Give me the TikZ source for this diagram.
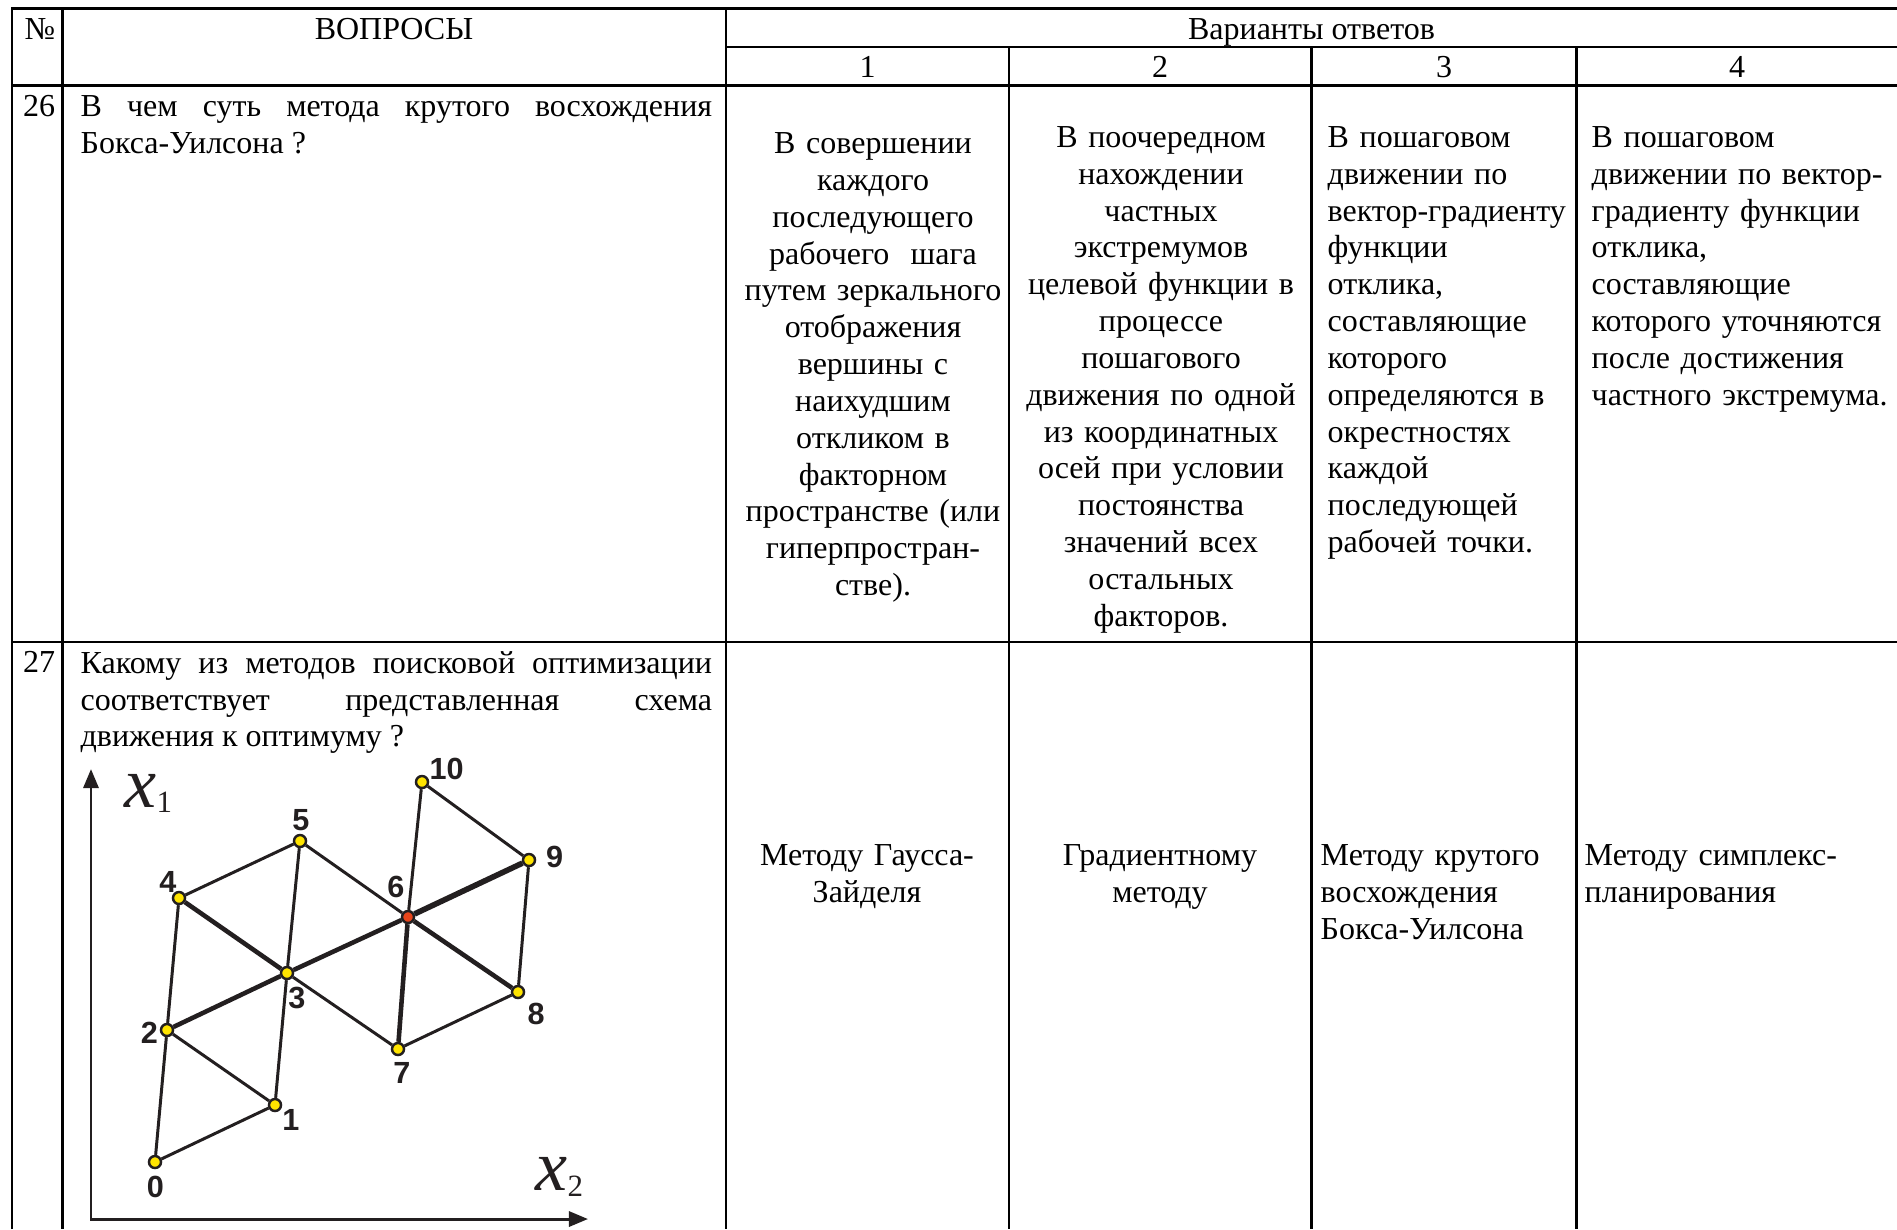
\documentclass[tikz,border=0pt]{standalone}
\usepackage{fontspec}
\setmainfont{Liberation Serif}
\newfontfamily\labelfont{Liberation Sans}
\usetikzlibrary{arrows,arrows.meta}
\definecolor{ink}{HTML}{231F20}
\definecolor{pointyellow}{HTML}{FFE400}
\definecolor{pointred}{HTML}{E8451B}
\newcommand{\cellfont}{\fontsize{9.1}{10.47}\selectfont}
\hbadness=10000

\begin{document}
\begin{tikzpicture}[x=0.01cm,y=-0.01cm,>={Triangle[length=0.19cm,width=0.15cm]},
  grid line/.style={line width=0.7pt},
  cell/.style={inner sep=0pt,font=\cellfont},
  point/.style={circle,draw=ink,fill=pointyellow,line width=0.7pt,inner sep=0pt,minimum size=0.12cm},
  num/.style={inner sep=0pt,text=ink,font=\labelfont\bfseries\fontsize{8.7}{9}\selectfont},
  thin edge/.style={draw=ink,line width=0.85pt},
  thick edge/.style={draw=ink,line width=1.3pt},
  axis/.style={draw=ink,line width=0.85pt},
  axis label/.style={inner sep=0pt,text=ink,font=\fontsize{20.5}{22}\selectfont\itshape}]

 \useasboundingbox (0,0) rectangle (1897,1229);

 % table grid
 \draw[grid line] (12,1229) -- (12,8.5) -- (1897,8.5);
 \draw[grid line] (726,47) -- (1897,47);
 \draw[grid line] (12,85.7) -- (1897,85.7);
 \draw[grid line] (12,642) -- (1897,642);
 \draw[grid line] (62.5,8.5) -- (62.5,1229);
 \draw[grid line] (726,8.5) -- (726,1229);
 \draw[grid line] (1009,47) -- (1009,1229);
 \draw[grid line] (1311.5,47) -- (1311.5,1229);
 \draw[grid line] (1576.5,47) -- (1576.5,1229);

 % header
 \node[cell,anchor=base] (no) at (40,39.2) {№};
 \node[cell,anchor=base] (questions) at (394,39.2) {ВОПРОСЫ};
 \node[cell,anchor=base] (variants) at (1311.5,39.2) {Варианты ответов};
 \node[cell,anchor=base] (v1) at (867.5,77) {1};
 \node[cell,anchor=base] (v2) at (1160,77) {2};
 \node[cell,anchor=base] (v3) at (1444,77) {3};
 \node[cell,anchor=base] (v4) at (1737,77) {4};

 % question 26
 \node[cell,anchor=base] (n26) at (39,116) {26};
 \node[cell,anchor=north west,text width=6.31cm,align=justify] (q26) at (80,90.2)
   {\strut В чем суть метода крутого восхождения\linebreak Бокса-Уилсона ?};
 \node[cell,anchor=north,text width=2.8cm,align=center] (a26a) at (873,127.2)
   {\strut В совершении\\ каждого\\ последующего\\ рабочего~ шага\\ путем зеркального\\ отображения\\ вершины с\\ наихудшим\\ откликом в\\ факторном\\ пространстве (или\\ гиперпростран-\\ стве).};
 \node[cell,anchor=north,text width=2.9cm,align=center] (a26b) at (1161,121)
   {\strut В поочередном\\ нахождении\\ частных\\ экстремумов\\ целевой функции в\\ процессе\\ пошагового\\ движения по одной\\ из координатных\\ осей при условии\\ постоянства\\ значений всех\\ остальных\\ факторов.};
 \node[cell,anchor=north west,text width=2.6cm,align=left] (a26c) at (1327,121)
   {\strut В пошаговом\\ движении по\\ вектор-градиенту\\ функции\\ отклика,\\ составляющие\\ которого\\ определяются в\\ окрестностях\\ каждой\\ последующей\\ рабочей точки.};
 \node[cell,anchor=north west,text width=3.1cm,align=left] (a26d) at (1591,121)
   {\strut В пошаговом\\ движении по вектор-\\ градиенту функции\\ отклика,\\ составляющие\\ которого уточняются\\ после достижения\\ частного экстремума.};

 % question 27
 \node[cell,anchor=base] (n27) at (39,672.5) {27};
 \node[cell,anchor=north west,text width=6.31cm,align=justify] (q27) at (80,646.7)
   {\strut Какому из методов поисковой оптимизации\linebreak соответствует представленная схема\linebreak движения к оптимуму ?};
 \node[cell,anchor=north,text width=2.8cm,align=center] (a27a) at (867,839.2)
   {\strut Методу Гаусса-\\ Зайделя};
 \node[cell,anchor=north,text width=2.9cm,align=center] (a27b) at (1160,839.2)
   {\strut Градиентному\\ методу};
 \node[cell,anchor=north west,text width=2.6cm,align=left] (a27c) at (1320,839.2)
   {\strut Методу крутого\\ восхождения\\ Бокса-Уилсона};
 \node[cell,anchor=north west,text width=3.1cm,align=left] (a27d) at (1584,839.2)
   {\strut Методу симплекс-\\ планирования};

 % simplex scheme
 \coordinate (x1tip) at (91,769);
 \coordinate (origin) at (91,1219);
 \coordinate (x2tip) at (588,1219);
 \draw[axis,<->] (x1tip) -- (origin) -- (x2tip);
 \node[axis label,anchor=base west] (x1label) at (124,807)
   {x\raisebox{-0.057cm}{\fontsize{8.8}{9}\selectfont\upshape 1}};
 \node[axis label,anchor=base west] (x2label) at (535,1190)
   {x\raisebox{-0.067cm}{\fontsize{8.8}{9}\selectfont\upshape 2}};

 \node[point] (0) at (155,1162) {};
 \node[point] (1) at (275,1105) {};
 \node[point] (2) at (167,1030) {};
 \node[point] (3) at (287,973) {};
 \node[point] (4) at (179,898) {};
 \node[point] (5) at (300,841) {};
 \node[point,fill=pointred] (6) at (408,917) {};
 \node[point] (7) at (398,1049) {};
 \node[point] (8) at (518,992) {};
 \node[point] (9) at (529,860) {};
 \node[point] (10) at (422,782) {};

 \path[thin edge]
    (0) edge (1)
    (0) edge (2)
    (1) edge (2)
    (1) edge (3)
    (3) edge (5)
    (2) edge (4)
    (4) edge (5)
    (5) edge (6)
    (3) edge (7)
    (7) edge (8)
    (8) edge (9)
    (9) edge (10)
    (10) edge (6);
 \path[thick edge]
    (2) edge (3)
    (3) edge (4)
    (3) edge (6)
    (6) edge (7)
    (6) edge (8)
    (6) edge [line width=1.6pt] (9);

 \node[num] (l0) at (155.5,1186.7) {0};
 \node[num] (l1) at (291,1120) {1};
 \node[num] (l2) at (149.5,1033) {2};
 \node[num] (l3) at (297,998) {3};
 \node[num] (l4) at (168,881.7) {4};
 \node[num] (l5) at (301,820) {5};
 \node[num] (l6) at (396,887) {6};
 \node[num] (l7) at (402,1073) {7};
 \node[num] (l8) at (536,1014) {8};
 \node[num] (l9) at (554.7,857) {9};
 \node[num] (l10) at (446.7,768.5) {10};

\end{tikzpicture}
\end{document}
